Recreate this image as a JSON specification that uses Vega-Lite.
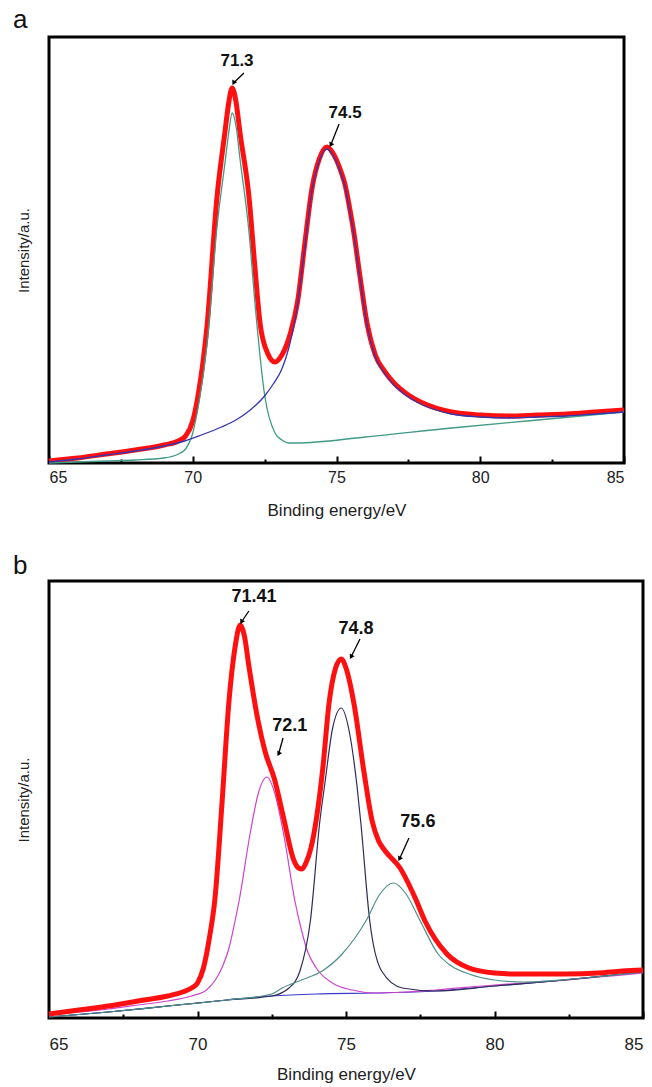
{
  "$schema": "https://vega.github.io/schema/vega-lite/v6.json",
  "background": "white",
  "padding": {"left": 11, "top": 5, "right": 5, "bottom": 0},
  "spacing": 31,
  "resolve": {"scale": {"color": "independent"}},
  "config": {
    "view": {"stroke": "black", "strokeWidth": 3},
    "font": "Liberation Sans",
    "axis": {"grid": false, "domain": false, "labelColor": "#222", "titleColor": "#222", "titleFontWeight": "normal"},
    "title": {"fontWeight": "normal", "fontSize": 26, "anchor": "start", "color": "#111"}
  },
  "datasets": {
    "a_curves": [
      {"E":65,"I":2,"s":"env"},{"E":66,"I":5,"s":"env"},{"E":67,"I":9,"s":"env"},{"E":68,"I":13,"s":"env"},{"E":69,"I":18,"s":"env"},{"E":69.5,"I":22,"s":"env"},{"E":69.75,"I":27,"s":"env"},{"E":70.0,"I":42,"s":"env"},{"E":70.2,"I":70,"s":"env"},{"E":70.5,"I":138,"s":"env"},{"E":70.84,"I":265,"s":"env"},{"E":71.12,"I":331,"s":"env"},{"E":71.25,"I":360,"s":"env"},{"E":71.37,"I":375,"s":"env"},{"E":71.5,"I":362,"s":"env"},{"E":71.64,"I":331,"s":"env"},{"E":71.96,"I":265,"s":"env"},{"E":72.15,"I":200,"s":"env"},{"E":72.34,"I":140,"s":"env"},{"E":72.6,"I":110,"s":"env"},{"E":72.86,"I":101,"s":"env"},{"E":73.1,"I":108,"s":"env"},{"E":73.4,"I":130,"s":"env"},{"E":73.65,"I":162,"s":"env"},{"E":73.9,"I":220,"s":"env"},{"E":74.15,"I":275,"s":"env"},{"E":74.4,"I":304,"s":"env"},{"E":74.67,"I":316,"s":"env"},{"E":74.85,"I":311,"s":"env"},{"E":75.0,"I":303,"s":"env"},{"E":75.15,"I":292,"s":"env"},{"E":75.3,"I":278,"s":"env"},{"E":75.45,"I":256,"s":"env"},{"E":75.6,"I":231,"s":"env"},{"E":75.8,"I":190,"s":"env"},{"E":76.06,"I":140,"s":"env"},{"E":76.35,"I":108,"s":"env"},{"E":76.69,"I":91,"s":"env"},{"E":77.0,"I":80,"s":"env"},{"E":77.5,"I":68,"s":"env"},{"E":78.0,"I":60,"s":"env"},{"E":79.0,"I":51,"s":"env"},{"E":80.0,"I":48,"s":"env"},{"E":81,"I":47,"s":"env"},{"E":82,"I":48,"s":"env"},{"E":83,"I":49,"s":"env"},{"E":84,"I":51,"s":"env"},{"E":85,"I":53,"s":"env"},
      {"E":65,"I":0,"s":"p1"},{"E":66,"I":1,"s":"p1"},{"E":67,"I":2,"s":"p1"},{"E":68,"I":3,"s":"p1"},{"E":69,"I":5,"s":"p1"},{"E":69.5,"I":9,"s":"p1"},{"E":69.75,"I":14,"s":"p1"},{"E":70.0,"I":30,"s":"p1"},{"E":70.2,"I":58,"s":"p1"},{"E":70.5,"I":120,"s":"p1"},{"E":70.84,"I":235,"s":"p1"},{"E":71.12,"I":300,"s":"p1"},{"E":71.25,"I":330,"s":"p1"},{"E":71.37,"I":350,"s":"p1"},{"E":71.5,"I":338,"s":"p1"},{"E":71.64,"I":305,"s":"p1"},{"E":71.96,"I":230,"s":"p1"},{"E":72.17,"I":158,"s":"p1"},{"E":72.5,"I":68,"s":"p1"},{"E":72.86,"I":30,"s":"p1"},{"E":73.1,"I":23,"s":"p1"},{"E":73.35,"I":20,"s":"p1"},{"E":73.6,"I":20,"s":"p1"},{"E":76,"I":26,"s":"p1"},{"E":79,"I":35,"s":"p1"},{"E":82,"I":43,"s":"p1"},{"E":85,"I":51,"s":"p1"},
      {"E":65,"I":1,"s":"p2"},{"E":66,"I":4,"s":"p2"},{"E":67,"I":8,"s":"p2"},{"E":68,"I":12,"s":"p2"},{"E":69,"I":17,"s":"p2"},{"E":69.6,"I":21,"s":"p2"},{"E":70.3,"I":28,"s":"p2"},{"E":71.0,"I":36,"s":"p2"},{"E":71.5,"I":43,"s":"p2"},{"E":72.0,"I":53,"s":"p2"},{"E":72.5,"I":67,"s":"p2"},{"E":72.8,"I":79,"s":"p2"},{"E":73.1,"I":94,"s":"p2"},{"E":73.35,"I":116,"s":"p2"},{"E":73.6,"I":150,"s":"p2"},{"E":73.9,"I":217,"s":"p2"},{"E":74.15,"I":273,"s":"p2"},{"E":74.4,"I":302,"s":"p2"},{"E":74.67,"I":314,"s":"p2"},{"E":74.85,"I":309,"s":"p2"},{"E":75.0,"I":301,"s":"p2"},{"E":75.15,"I":290,"s":"p2"},{"E":75.3,"I":276,"s":"p2"},{"E":75.45,"I":254,"s":"p2"},{"E":75.6,"I":229,"s":"p2"},{"E":75.8,"I":188,"s":"p2"},{"E":76.06,"I":138,"s":"p2"},{"E":76.35,"I":106,"s":"p2"},{"E":76.69,"I":89,"s":"p2"},{"E":77.0,"I":78,"s":"p2"},{"E":77.5,"I":66,"s":"p2"},{"E":78.0,"I":58,"s":"p2"},{"E":79.0,"I":49,"s":"p2"},{"E":80.0,"I":46,"s":"p2"},{"E":81,"I":45,"s":"p2"},{"E":82,"I":46,"s":"p2"},{"E":83,"I":47,"s":"p2"},{"E":84,"I":49,"s":"p2"},{"E":85,"I":51,"s":"p2"}
    ],
    "a_labels": [
      {"E":71.54,"I":402,"t":"71.3"},
      {"E":75.3,"I":350,"t":"74.5"}
    ],
    "a_arrows": [
      {"x0":71.78,"y0":390,"x1":71.42,"y1":380},
      {"x0":75.09,"y0":339,"x1":74.8,"y1":318}
    ],
    "b_curves": [
      {"E":65,"I":4,"s":"env"},{"E":66,"I":8,"s":"env"},{"E":67,"I":12,"s":"env"},{"E":68,"I":17,"s":"env"},{"E":69,"I":22,"s":"env"},{"E":69.5,"I":26,"s":"env"},{"E":69.8,"I":30,"s":"env"},{"E":70.0,"I":35,"s":"env"},{"E":70.2,"I":50,"s":"env"},{"E":70.4,"I":80,"s":"env"},{"E":70.59,"I":120,"s":"env"},{"E":70.83,"I":217,"s":"env"},{"E":71.06,"I":317,"s":"env"},{"E":71.26,"I":370,"s":"env"},{"E":71.44,"I":393,"s":"env"},{"E":71.58,"I":382,"s":"env"},{"E":71.73,"I":352,"s":"env"},{"E":72.04,"I":297,"s":"env"},{"E":72.27,"I":267,"s":"env"},{"E":72.6,"I":238,"s":"env"},{"E":72.9,"I":200,"s":"env"},{"E":73.24,"I":158,"s":"env"},{"E":73.4,"I":150,"s":"env"},{"E":73.52,"I":149,"s":"env"},{"E":73.65,"I":155,"s":"env"},{"E":73.82,"I":170,"s":"env"},{"E":74.22,"I":250,"s":"env"},{"E":74.43,"I":315,"s":"env"},{"E":74.65,"I":350,"s":"env"},{"E":74.84,"I":359,"s":"env"},{"E":75.0,"I":350,"s":"env"},{"E":75.27,"I":314,"s":"env"},{"E":75.6,"I":247,"s":"env"},{"E":75.88,"I":197,"s":"env"},{"E":76.1,"I":177,"s":"env"},{"E":76.32,"I":167,"s":"env"},{"E":76.82,"I":150,"s":"env"},{"E":77.33,"I":120,"s":"env"},{"E":77.66,"I":97,"s":"env"},{"E":78.4,"I":64,"s":"env"},{"E":79.14,"I":50,"s":"env"},{"E":80.0,"I":45,"s":"env"},{"E":80.7,"I":44,"s":"env"},{"E":82.4,"I":44,"s":"env"},{"E":83.5,"I":45,"s":"env"},{"E":84.3,"I":47,"s":"env"},{"E":85,"I":48,"s":"env"},
      {"E":65,"I":1,"s":"bg"},{"E":67,"I":6,"s":"bg"},{"E":69,"I":12,"s":"bg"},{"E":71,"I":18,"s":"bg"},{"E":72.5,"I":22,"s":"bg"},{"E":74,"I":24,"s":"bg"},{"E":76,"I":25,"s":"bg"},{"E":78,"I":27,"s":"bg"},{"E":80,"I":32,"s":"bg"},{"E":82,"I":37,"s":"bg"},{"E":84,"I":43,"s":"bg"},{"E":85,"I":46,"s":"bg"},
      {"E":65,"I":3,"s":"c721"},{"E":66,"I":6,"s":"c721"},{"E":67,"I":9,"s":"c721"},{"E":68,"I":13,"s":"c721"},{"E":69,"I":17,"s":"c721"},{"E":69.8,"I":22,"s":"c721"},{"E":70.3,"I":28,"s":"c721"},{"E":70.6,"I":38,"s":"c721"},{"E":70.85,"I":52,"s":"c721"},{"E":71.06,"I":70,"s":"c721"},{"E":71.25,"I":95,"s":"c721"},{"E":71.4,"I":117,"s":"c721"},{"E":71.77,"I":184,"s":"c721"},{"E":72.05,"I":225,"s":"c721"},{"E":72.34,"I":241,"s":"c721"},{"E":72.6,"I":225,"s":"c721"},{"E":72.9,"I":184,"s":"c721"},{"E":73.28,"I":117,"s":"c721"},{"E":73.5,"I":88,"s":"c721"},{"E":73.7,"I":67,"s":"c721"},{"E":74.0,"I":50,"s":"c721"},{"E":74.6,"I":34,"s":"c721"},{"E":75.2,"I":28,"s":"c721"},{"E":76.0,"I":25,"s":"c721"},{"E":77.0,"I":26,"s":"c721"},{"E":78.0,"I":28,"s":"c721"},{"E":80.0,"I":33,"s":"c721"},{"E":82,"I":37,"s":"c721"},{"E":85,"I":45,"s":"c721"},
      {"E":65,"I":1,"s":"c748"},{"E":67,"I":6,"s":"c748"},{"E":69,"I":12,"s":"c748"},{"E":71,"I":18,"s":"c748"},{"E":72.5,"I":22,"s":"c748"},{"E":73.08,"I":30,"s":"c748"},{"E":73.45,"I":47,"s":"c748"},{"E":73.8,"I":97,"s":"c748"},{"E":74.12,"I":197,"s":"c748"},{"E":74.29,"I":235,"s":"c748"},{"E":74.55,"I":290,"s":"c748"},{"E":74.84,"I":310,"s":"c748"},{"E":75.1,"I":288,"s":"c748"},{"E":75.37,"I":232,"s":"c748"},{"E":75.5,"I":195,"s":"c748"},{"E":75.8,"I":97,"s":"c748"},{"E":76.2,"I":47,"s":"c748"},{"E":76.9,"I":30,"s":"c748"},{"E":78,"I":27,"s":"c748"},{"E":80,"I":32,"s":"c748"},{"E":82,"I":37,"s":"c748"},{"E":84,"I":43,"s":"c748"},{"E":85,"I":46,"s":"c748"},
      {"E":65,"I":1,"s":"c756"},{"E":67,"I":6,"s":"c756"},{"E":69,"I":12,"s":"c756"},{"E":71,"I":18,"s":"c756"},{"E":72.5,"I":24,"s":"c756"},{"E":72.85,"I":30,"s":"c756"},{"E":73.5,"I":38,"s":"c756"},{"E":74.2,"I":47,"s":"c756"},{"E":74.87,"I":64,"s":"c756"},{"E":75.3,"I":80,"s":"c756"},{"E":75.71,"I":99,"s":"c756"},{"E":76.1,"I":122,"s":"c756"},{"E":76.6,"I":135,"s":"c756"},{"E":77.0,"I":125,"s":"c756"},{"E":77.5,"I":97,"s":"c756"},{"E":78.1,"I":64,"s":"c756"},{"E":78.5,"I":53,"s":"c756"},{"E":79.14,"I":44,"s":"c756"},{"E":80,"I":38,"s":"c756"},{"E":81,"I":36,"s":"c756"},{"E":83,"I":40,"s":"c756"},{"E":85,"I":46,"s":"c756"}
    ],
    "b_labels": [
      {"E":71.9,"I":421,"t":"71.41"},
      {"E":73.11,"I":292,"t":"72.1"},
      {"E":75.34,"I":389,"t":"74.8"},
      {"E":77.42,"I":196,"t":"75.6"}
    ],
    "b_arrows": [
      {"x0":71.73,"y0":407,"x1":71.48,"y1":396},
      {"x0":72.88,"y0":280,"x1":72.73,"y1":264},
      {"x0":75.47,"y0":379,"x1":75.17,"y1":361},
      {"x0":77.12,"y0":180,"x1":76.8,"y1":159}
    ]
  },
  "vconcat": [
    {
      "width": 575,
      "height": 426,
      "title": {"text": "a", "dx": -36, "offset": 4, "frame": "group"},
      "encoding": {
        "x": {"field": "E", "type": "quantitative", "scale": {"domain": [65, 85], "nice": false, "zero": false},
          "axis": {"title": "Binding energy/eV", "values": [65, 67.5, 70, 72.5, 75, 77.5, 80, 82.5, 85],
            "labelExpr": "datum.value % 5 === 0 ? datum.label : ''",
            "tickSize": {"condition": {"test": "datum.value % 5 === 0", "value": -7}, "value": -4},
            "tickWidth": 2, "tickColor": "black", "labelFontSize": 16, "labelPadding": 13, "titleFontSize": 17, "titlePadding": 17}},
        "y": {"field": "I", "type": "quantitative", "scale": {"domain": [0, 426], "nice": false, "zero": false},
          "axis": {"title": "Intensity/a.u.", "labels": false, "ticks": false, "titleFontSize": 15, "titlePadding": 18}}
      },
      "layer": [
        {"data": {"name": "a_curves"}, "transform": [{"filter": "datum.s === 'env'"}],
          "mark": {"type": "line", "color": "#ff1010", "strokeWidth": 5, "interpolate": "monotone"}},
        {"data": {"name": "a_curves"}, "transform": [{"filter": "datum.s !== 'env'"}],
          "mark": {"type": "line", "strokeWidth": 1.3, "interpolate": "monotone"},
          "encoding": {"color": {"field": "s", "type": "nominal", "legend": null, "scale": {"domain": ["p1", "p2"], "range": ["#3f9a86", "#3535b0"]}}}},
        {"data": {"name": "a_arrows"}, "mark": {"type": "rule", "color": "black", "strokeWidth": 1.3},
          "encoding": {"x": {"field": "x0", "type": "quantitative"}, "y": {"field": "y0", "type": "quantitative"}, "x2": {"field": "x1"}, "y2": {"field": "y1"}}},
        {"data": {"name": "a_arrows"}, "mark": {"type": "point", "shape": "triangle-down", "filled": true, "color": "black", "size": 30, "angle": 28, "opacity": 1},
          "encoding": {"x": {"field": "x1", "type": "quantitative"}, "y": {"field": "y1", "type": "quantitative"}}},
        {"data": {"name": "a_labels"}, "mark": {"type": "text", "fontSize": 17, "fontWeight": "bold", "color": "#111", "align": "center", "baseline": "middle"},
          "encoding": {"text": {"field": "t"}}}
      ]
    },
    {
      "width": 594,
      "height": 437,
      "title": {"text": "b", "dx": -36, "offset": 2, "frame": "group"},
      "encoding": {
        "x": {"field": "E", "type": "quantitative", "scale": {"domain": [65, 85], "nice": false, "zero": false},
          "axis": {"title": "Binding energy/eV", "values": [65, 67.5, 70, 72.5, 75, 77.5, 80, 82.5, 85],
            "labelExpr": "datum.value % 5 === 0 ? datum.label : ''",
            "tickSize": {"condition": {"test": "datum.value % 5 === 0", "value": -7}, "value": -4},
            "tickWidth": 2, "tickColor": "black", "labelFontSize": 17, "labelPadding": 25, "titleFontSize": 17, "titlePadding": 14}},
        "y": {"field": "I", "type": "quantitative", "scale": {"domain": [0, 437], "nice": false, "zero": false},
          "axis": {"title": "Intensity/a.u.", "labels": false, "ticks": false, "titleFontSize": 15, "titlePadding": 18}}
      },
      "layer": [
        {"data": {"name": "b_curves"}, "transform": [{"filter": "datum.s !== 'env'"}],
          "mark": {"type": "line", "strokeWidth": 1.2, "interpolate": "monotone"},
          "encoding": {"color": {"field": "s", "type": "nominal", "legend": null, "scale": {"domain": ["bg", "c721", "c748", "c756"], "range": ["#3a3ac8", "#cc44cc", "#2d2d5a", "#4f8f88"]}}}},
        {"data": {"name": "b_curves"}, "transform": [{"filter": "datum.s === 'env'"}],
          "mark": {"type": "line", "color": "#ff1010", "strokeWidth": 5, "interpolate": "monotone"}},
        {"data": {"name": "b_arrows"}, "mark": {"type": "rule", "color": "black", "strokeWidth": 1.3},
          "encoding": {"x": {"field": "x0", "type": "quantitative"}, "y": {"field": "y0", "type": "quantitative"}, "x2": {"field": "x1"}, "y2": {"field": "y1"}}},
        {"data": {"name": "b_arrows"}, "mark": {"type": "point", "shape": "triangle-down", "filled": true, "color": "black", "size": 30, "angle": 28, "opacity": 1},
          "encoding": {"x": {"field": "x1", "type": "quantitative"}, "y": {"field": "y1", "type": "quantitative"}}},
        {"data": {"name": "b_labels"}, "mark": {"type": "text", "fontSize": 18, "fontWeight": "bold", "color": "#111", "align": "center", "baseline": "middle"},
          "encoding": {"text": {"field": "t"}}}
      ]
    }
  ]
}
